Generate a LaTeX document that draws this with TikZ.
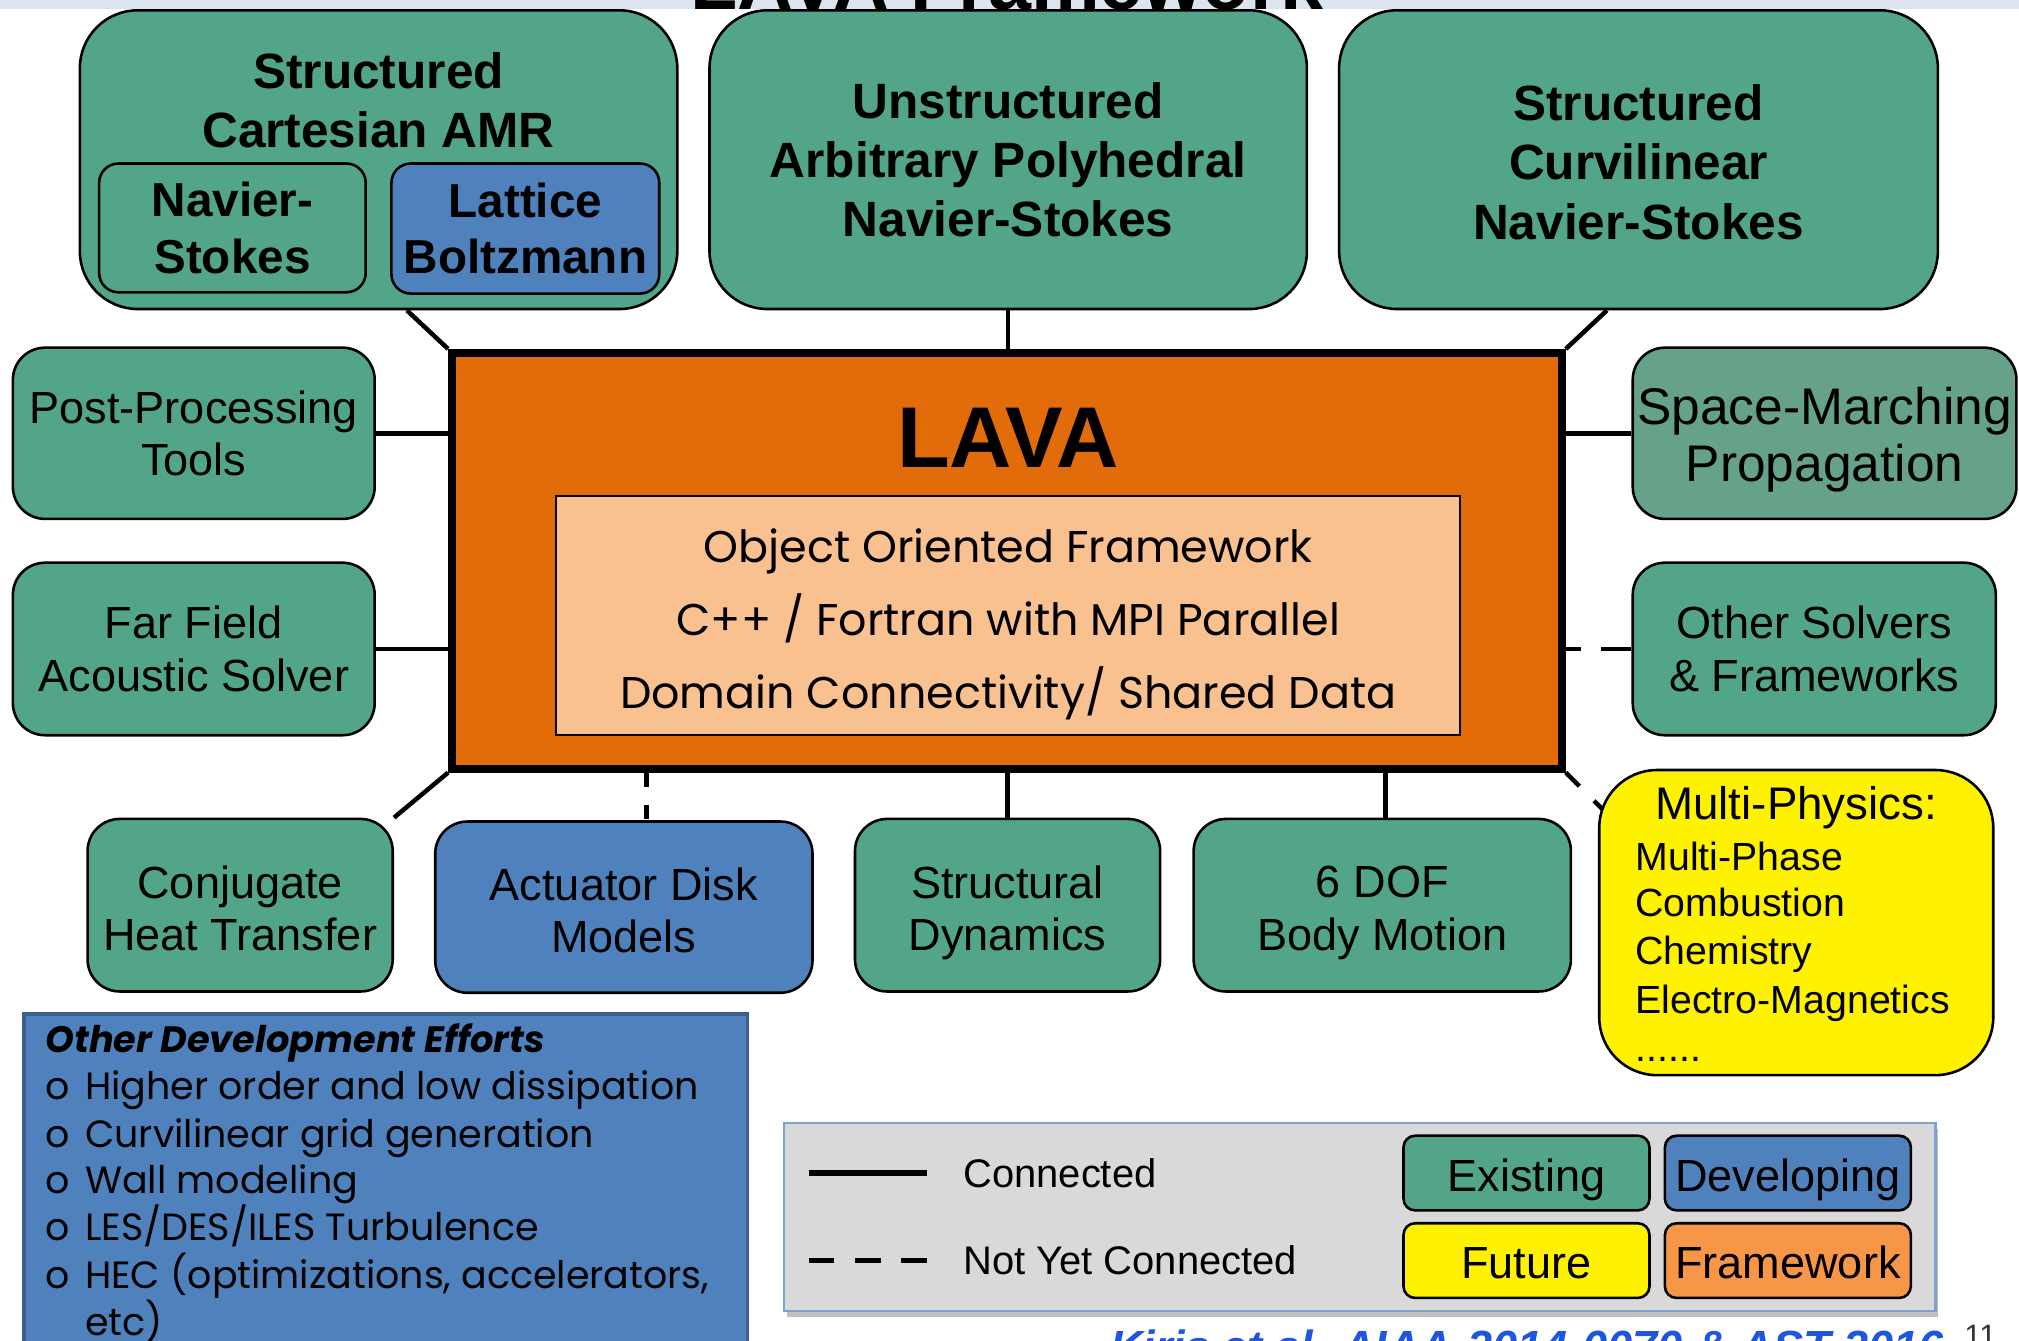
\documentclass[tikz,border=0pt]{standalone}
\usepackage{fontspec}
\setmainfont{Liberation Sans}
\newfontfamily\goth{Poppins}
\usetikzlibrary{shadows}
\pgfdeclarelayer{background}
\pgfsetlayers{background,main}
\definecolor{exist}{HTML}{52A48B}
\definecolor{spacecol}{HTML}{66A28A}
\definecolor{devel}{HTML}{4F81BD}
\definecolor{devborder}{HTML}{3A5F8C}
\definecolor{lavaor}{HTML}{E36C0A}
\definecolor{peach}{HTML}{F9C090}
\definecolor{fwor}{HTML}{F79646}
\definecolor{legbg}{HTML}{D9D9D9}
\definecolor{legbord}{HTML}{7FA1D0}
\definecolor{bandcol}{HTML}{DCE4F0}
\definecolor{citeblue}{HTML}{1E56E0}
\tikzset{
  box/.style={draw=black, line width=2pt, rounded corners=25pt, fill=exist, align=center, inner sep=0pt,
    font=\fontsize{35}{41}\selectfont},
  bigbox/.style={box, rounded corners=45pt, font=\fontsize{38.5}{46}\selectfont\bfseries},
  smallbox/.style={box, rounded corners=15pt, font=\fontsize{37}{44}\selectfont\bfseries},
  btext/.style={align=center, inner sep=0pt, font=\fontsize{35}{41}\selectfont},
  conn/.style={line width=3.5pt, black},
  mpline/.style={anchor=base west, inner sep=0pt, font=\fontsize{30.5}{36}\selectfont},
  devline/.style={anchor=base west, inner sep=0pt, font=\goth\fontsize{29.5}{34}\selectfont},
  lsw/.style={draw=black, line width=2pt, rounded corners=9pt, minimum width=191pt, minimum height=58pt,
    inner sep=0pt, text height=35pt, text depth=7pt, font=\fontsize{35}{35}\selectfont},
  legtext/.style={anchor=west, inner sep=0pt, font=\fontsize{31}{31}\selectfont},
}
\begin{document}
\begin{tikzpicture}[x=1pt,y=-1pt]
\useasboundingbox (0,0) rectangle (1568,1041);
% top band and cut title
\fill[bandcol] (0,0) rectangle (1568,7);
\node[anchor=base, inner sep=0pt, font=\fontsize{60}{60}\selectfont\bfseries] (title) at (782,7.5) {LAVA Framework};

% top boxes
\node[bigbox, minimum width=464pt, minimum height=232pt] (amr) at (294,124) {};
\node[align=center, inner sep=0pt, font=\fontsize{38.5}{46}\selectfont\bfseries] (amrt) at (294,78) {Structured\\Cartesian AMR};
\node[smallbox, minimum width=207pt, minimum height=100pt] (ns) at (180.5,177) {Navier-\\Stokes};
\node[smallbox, fill=devel, minimum width=208pt, minimum height=101pt] (lb) at (408,177.5) {Lattice\\Boltzmann};
\node[bigbox, minimum width=464pt, minimum height=232pt] (uns) at (783,124) {Unstructured\\Arbitrary Polyhedral\\Navier-Stokes};
\node[bigbox, minimum width=465pt, minimum height=232pt] (curv) at (1272.5,124) {};
\node[align=center, inner sep=0pt, font=\fontsize{38.5}{46}\selectfont\bfseries] (curvt) at (1272.5,126) {Structured\\Curvilinear\\Navier-Stokes};

% LAVA core
\node[draw=black, line width=6pt, fill=lavaor, minimum width=862pt, minimum height=323pt, inner sep=0pt] (lava) at (782,435.5) {};
\node[inner sep=0pt, font=\fontsize{67}{67}\selectfont\bfseries] (lavat) at (783,340) {LAVA};
\node[draw=black, line width=1.5pt, fill=peach, minimum width=702pt, minimum height=186pt, inner sep=0pt] (core) at (783,478) {};
\node[align=center, inner sep=0pt, font=\goth\fontsize{34.5}{56.5}\selectfont] (coret) at (783,485)
  {Object Oriented Framework\\C++ / Fortran with MPI Parallel\\Domain Connectivity/ Shared Data};

% side boxes
\node[box, minimum width=281pt, minimum height=133pt] (post) at (150.5,336.5) {Post-Processing\\Tools};
\node[box, minimum width=281pt, minimum height=134pt] (far) at (150.5,504) {Far Field\\Acoustic Solver};
\node[box, fill=spacecol, minimum width=298pt, minimum height=133pt] (space) at (1417,336.5) {};
\node[btext, font=\fontsize{40}{44}\selectfont] (spacet) at (1417,341.5) {Space-Marching\\Propagation};
\node[box, minimum width=282pt, minimum height=134pt] (other) at (1409,504) {Other Solvers\\\& Frameworks};

% bottom row
\node[box, minimum width=237pt, minimum height=134pt] (conj) at (186.5,703) {};
\node[btext] (conjt) at (186.5,705.5) {Conjugate\\Heat Transfer};
\node[box, fill=devel, minimum width=293pt, minimum height=133pt] (act) at (484.5,704.5) {};
\node[btext] (actt) at (484.5,707) {Actuator Disk\\Models};
\node[box, minimum width=237pt, minimum height=134pt] (struc) at (782.5,703) {};
\node[btext] (struct) at (782.5,709) {Structural\\Dynamics};
\node[box, minimum width=293pt, minimum height=134pt] (dof) at (1073.5,703) {};
\node[btext] (doft) at (1073.5,709) {6 DOF\\Body Motion};

% multi-physics
\node[box, fill=yellow, rounded corners=45pt, minimum width=306pt, minimum height=237pt] (multi) at (1395,716.5) {};
\node[inner sep=0pt, font=\fontsize{35.5}{40}\selectfont] (m0) at (1395,627) {Multi-Physics:};
\node[mpline] (m1) at (1270,676) {Multi-Phase};
\node[mpline] (m2) at (1270,712) {Combustion};
\node[mpline] (m3) at (1270,749) {Chemistry};
\node[mpline] (m4) at (1270,787) {Electro-Magnetics};
\node[mpline] (m5) at (1270,824) {......};

% other development efforts
\node[draw=devborder, line width=3pt, fill=devel, minimum width=562pt, minimum height=280pt, inner sep=0pt, anchor=north west] (dev) at (17,786) {};
\node[anchor=base west, inner sep=0pt, font=\goth\bfseries\itshape\fontsize{28.5}{30}\selectfont] (d0) at (35,817) {Other Development Efforts};
\node[devline] (d1) at (35,854) {\makebox[31pt][l]{o}Higher order and low dissipation};
\node[devline] (d2) at (35,891) {\makebox[31pt][l]{o}Curvilinear grid generation};
\node[devline] (d3) at (35,927) {\makebox[31pt][l]{o}Wall modeling};
\node[devline] (d4) at (35,963) {\makebox[31pt][l]{o}LES/DES/ILES Turbulence};
\node[devline] (d5) at (35,1001) {\makebox[31pt][l]{o}HEC (optimizations, accelerators,};
\node[devline] (d6) at (66,1037) {etc)};

% legend
\node[draw=legbord, line width=2pt, fill=legbg, minimum width=894pt, minimum height=146pt, inner sep=0pt,
  drop shadow={shadow xshift=2pt, shadow yshift=-5pt, fill=black, opacity=0.25}] (leg) at (1056,945) {};
\coordinate (s1) at (628,911);
\coordinate (s2) at (720,911);
\coordinate (t1) at (628,979);
\coordinate (t2) at (720,979);
\draw[line width=4pt] (s1) -- (s2);
\draw[line width=4pt, dash pattern=on 20pt off 16pt] (t1) -- (t2);
\node[legtext] (lc) at (748,911) {Connected};
\node[legtext] (lnc) at (748,979) {Not Yet Connected};
\node[lsw, fill=exist] (e1) at (1185.5,911) {Existing};
\node[lsw, fill=devel] (e2) at (1388.5,911) {Developing};
\node[lsw, fill=yellow] (e3) at (1185.5,979) {Future};
\node[lsw, fill=fwor] (e4) at (1388.5,979) {Framework};

% citation and page number
\node[anchor=base west, inner sep=0pt, text=citeblue, font=\fontsize{35}{35}\selectfont\bfseries\itshape] (cite) at (862,1058) {Kiris et al. AIAA-2014-0070 \& AST 2016};
\node[anchor=base, inner sep=0pt, text=black!80, font=\fontsize{24}{24}\selectfont] (pg) at (1538,1046) {11};

% connectors
\begin{pgfonlayer}{background}
\coordinate (xa) at (316,0);
\coordinate (xc) at (1248,0);
\coordinate (xd) at (502,0);
\coordinate (xf) at (1076,0);
\coordinate (mp) at (1262,646);
\draw[conn] (lava.north west) -- (xa |- amr.south);
\draw[conn] (uns.south) -- (uns.south |- lava.north);
\draw[conn] (lava.north east) -- (xc |- curv.south);
\draw[conn] (post.east) -- (post.east -| lava.west);
\draw[conn] (far.east) -- (far.east -| lava.west);
\draw[conn] (space.west) -- (space.west -| lava.east);
\draw[conn, dash pattern=on 12pt off 15pt on 26pt off 15pt] (lava.east |- other.west) -- (other.west);
\draw[conn] (lava.south west) -- (conj.north east);
\draw[conn, dash pattern=on 11pt off 14pt] (xd |- lava.south) -- (xd |- act.north);
\draw[conn] (struc.north) -- (struc.north |- lava.south);
\draw[conn] (xf |- lava.south) -- (xf |- dof.north);
\draw[conn, dash pattern=on 15pt off 16pt] (lava.south east) -- (mp);
\end{pgfonlayer}
\end{tikzpicture}
\end{document}
